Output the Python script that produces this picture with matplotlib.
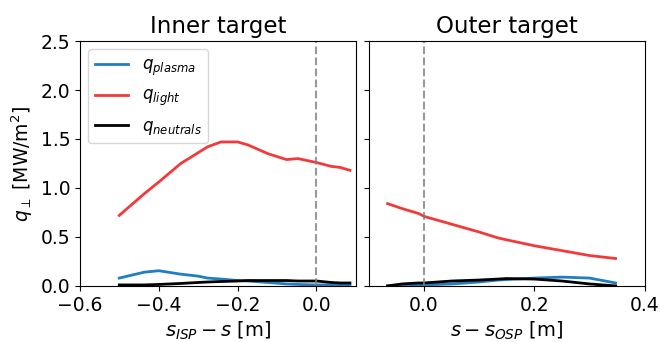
import numpy as np
import matplotlib
matplotlib.use("Agg")
import matplotlib.pyplot as plt

# inner target, x = s_ISP - s [m]
x_in = [-0.50, -0.437, -0.40, -0.344, -0.30, -0.276, -0.242, -0.20, -0.174, -0.123,
        -0.076, -0.047, 0.0, 0.038, 0.06, 0.085]
light_in = [0.72, 0.94, 1.06, 1.25, 1.36, 1.42, 1.47, 1.47, 1.44, 1.35,
            1.29, 1.30, 1.26, 1.22, 1.21, 1.18]
plasma_in = [0.08, 0.14, 0.155, 0.12, 0.10, 0.08, 0.07, 0.055, 0.05, 0.035,
             0.02, 0.015, 0.01, 0.01, 0.01, 0.01]
neutral_in = [0.01, 0.01, 0.015, 0.025, 0.035, 0.04, 0.045, 0.05, 0.055, 0.055,
              0.055, 0.05, 0.05, 0.035, 0.03, 0.03]

# outer target, x = s - s_OSP [m]
x_out = [-0.066, -0.04, -0.01, 0.0, 0.05, 0.10, 0.134, 0.15, 0.20,
         0.25, 0.30, 0.347]
light_out = [0.84, 0.79, 0.74, 0.71, 0.63, 0.55, 0.49, 0.47, 0.41,
             0.36, 0.31, 0.28]
plasma_out = [0.0, 0.0, 0.01, 0.01, 0.02, 0.04, 0.06, 0.065, 0.08,
              0.09, 0.08, 0.03]
neutral_out = [0.0, 0.02, 0.03, 0.03, 0.05, 0.06, 0.07, 0.075, 0.07,
               0.05, 0.02, 0.0]

c_plasma = "#1f7fc0"
c_light = "#f23a3a"
c_neutral = "k"

fig, (ax1, ax2) = plt.subplots(1, 2, figsize=(6.6, 3.42), dpi=100, sharey=True)
fig.subplots_adjust(left=0.121, right=0.977, bottom=0.164, top=0.880, wspace=0.047)

ax1.plot(x_in, plasma_in, color=c_plasma, lw=2, label=r"$q_{plasma}$")
ax1.plot(x_in, light_in, color=c_light, lw=2, label=r"$q_{light}$")
ax1.plot(x_in, neutral_in, color=c_neutral, lw=2, label=r"$q_{neutrals}$")
ax1.axvline(0, color="gray", ls="--", lw=1.5, alpha=0.8)
ax1.set_xlim(-0.6, 0.1)
ax1.set_ylim(0, 2.5)
ax1.set_xticks([-0.6, -0.4, -0.2, 0.0])
ax1.set_yticks([0.0, 0.5, 1.0, 1.5, 2.0, 2.5])
ax1.set_title("Inner target", fontsize=16.5)
ax1.set_xlabel(r"$s_{ISP} - s$ [m]", fontsize=14)
ax1.set_ylabel(r"$q_\perp$ [MW/m$^2$]", fontsize=13.5)
ax1.legend(loc="upper left", fontsize=12)

ax2.plot(x_out, plasma_out, color=c_plasma, lw=2)
ax2.plot(x_out, light_out, color=c_light, lw=2)
ax2.plot(x_out, neutral_out, color=c_neutral, lw=2)
ax2.axvline(0, color="gray", ls="--", lw=1.5, alpha=0.8)
ax2.set_xlim(-0.1, 0.4)
ax2.set_xticks([0.0, 0.2, 0.4])
ax2.set_title("Outer target", fontsize=16.5)
ax2.set_xlabel(r"$s - s_{OSP}$ [m]", fontsize=14)

for ax in (ax1, ax2):
    ax.tick_params(labelsize=13.5)

fig.savefig("out.png", dpi=100)
